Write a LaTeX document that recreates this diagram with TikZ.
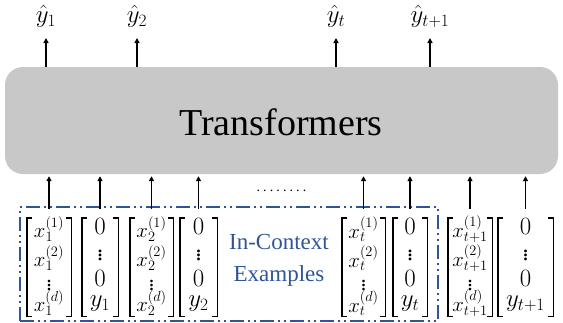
\documentclass[tikz,border=0pt]{standalone}
\usepackage{fontspec}
\setmainfont{Liberation Serif}
\usetikzlibrary{arrows.meta}
\definecolor{boxgray}{RGB}{200,200,200}
\definecolor{ctxblue}{RGB}{47,85,151}
\tikzset{
  tfbox/.style={fill=boxgray, rounded corners=18pt, minimum width=553pt, minimum height=107pt, inner sep=0pt},
  colbox/.style={minimum height=98pt, inner sep=0pt},
  ent/.style={inner sep=0pt, font=\fontsize{22}{26}\selectfont},
  zent/.style={inner sep=0pt, font=\fontsize{24}{28}\selectfont},
  brk/.style={line width=1.4pt},
  arr/.style={line width=1.6pt, -{Triangle[length=5pt,width=5pt]}},
  outlab/.style={inner sep=0pt, anchor=south, font=\fontsize{24}{28}\selectfont},
  ctxbox/.style={draw=ctxblue, line width=1.8pt, dash pattern=on 14pt off 4pt on 2pt off 4pt on 2pt off 4pt, inner sep=0pt, minimum width=418pt, minimum height=114pt},
}
\newcommand\mybrackets[1]{%
  \draw[brk] ([xshift=5pt]#1.north west) -- (#1.north west) -- (#1.south west) -- ([xshift=5pt]#1.south west);
  \draw[brk] ([xshift=-5pt]#1.north east) -- (#1.north east) -- (#1.south east) -- ([xshift=-5pt]#1.south east);}
\newcommand\xcol[4]{%
  \node[colbox, minimum width=#3] (#1) at (#2,267) {};
  \node[ent] (#1-a) at (#2,229) {$x_{#4}^{(1)}$};
  \node[ent] (#1-b) at (#2,258) {$x_{#4}^{(2)}$};
  \node[ent] (#1-c) at (#2,283) {$\vdots$};
  \node[ent] (#1-d) at (#2,303) {$x_{#4}^{(d)}$};
  \mybrackets{#1}}
\newcommand\ycol[4]{%
  \node[colbox, minimum width=#3] (#1) at (#2,267) {};
  \node[zent] (#1-a) at (#2,226) {$0$};
  \node[zent] (#1-b) at (#2,252) {$\vdots$};
  \node[zent] (#1-c) at (#2,278) {$0$};
  \node[zent] (#1-d) at (#2,304) {$y_{#4}$};
  \mybrackets{#1}}
\begin{document}
\begin{tikzpicture}[x=1pt,y=-1pt]
\useasboundingbox (0,0) rectangle (563,322);
% transformer box
\node[tfbox] (tf) at (281.5,120.5) {};
\node[inner sep=0pt, anchor=base, font=\fontsize{38}{44}\selectfont] (tftext) at (281,135) {Transformers};
% context box
\node[ctxbox] (ctx) at (229,264) {};
\node[inner sep=0pt, align=center, text=ctxblue, font=\fontsize{23}{31.7}\selectfont] (ctxtext) at (279,260) {In-Context\\Examples};
% dots
\node[inner sep=0pt, anchor=base, font=\fontsize{14}{16}\selectfont] (dots) at (281.5,191) {.\kern3.1pt.\kern3.1pt.\kern3.1pt.\kern3.1pt.\kern3.1pt.\kern3.1pt.\kern3.1pt.};
% columns
\xcol{c1}{49}{44pt}{1}
\ycol{c2}{100}{36pt}{1}
\xcol{c3}{151.5}{43pt}{2}
\ycol{c4}{198.5}{37pt}{2}
\xcol{c5}{363.5}{43pt}{t}
\ycol{c6}{410}{34pt}{t}
\xcol{c7}{470}{44pt}{t+1}
\ycol{c8}{525.5}{55pt}{t+1}
% input arrows
\foreach \c in {c1,c2,c3,c4,c5,c6,c7,c8}
  \draw[arr, shorten >=2pt] ([yshift=9pt]\c.north) -- (tf.south -| \c.north);
% outputs
\node[outlab] (o1) at (46,28) {$\hat{y}_1$};
\node[outlab] (o2) at (137,28) {$\hat{y}_2$};
\node[outlab] (o3) at (336,28) {$\hat{y}_t$};
\node[outlab] (o4) at (430,28) {$\hat{y}_{t+1}$};
\foreach \o in {o1,o2,o3,o4}
  \draw[arr, shorten >=10pt] (tf.north -| \o.south) -- (\o.south);
\end{tikzpicture}
\end{document}
